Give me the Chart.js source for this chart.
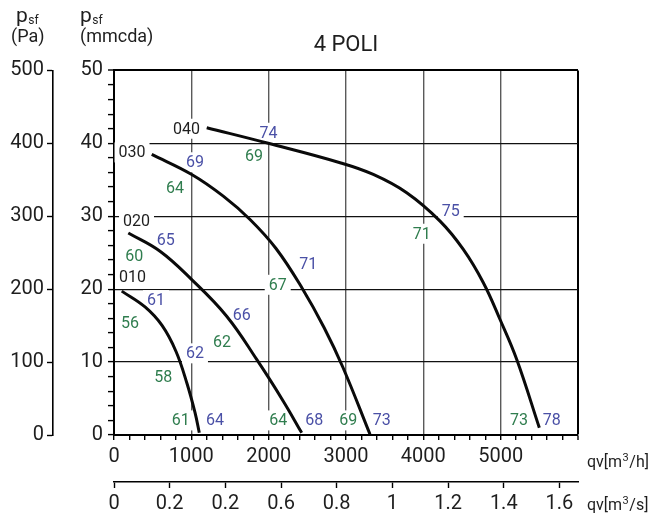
<!DOCTYPE html>
<html>
<head>
<meta charset="utf-8">
<script src="https://cdn.jsdelivr.net/npm/chart.js@4.4.1/dist/chart.umd.min.js"></script>
<style>
  html, body { margin: 0; padding: 0; background: #fff; }
  #wrap { width: 662px; height: 515px; }
</style>
</head>
<body>
<div id="wrap"><canvas id="fanChart"></canvas></div>
<script>
// Fan curves, flow in m3/h, pressure in mmcda
const flow010 = [100, 401, 621, 802, 944, 1047, 1103];
const press010 = [19.73, 17.56, 15.02, 11.45, 7.06, 3.09, 0.3];
const flow020 = [185, 595, 1005, 1457, 1845, 2189, 2427];
const press020 = [27.7, 25.2, 21.31, 16.29, 10.36, 4.64, 0.3];
const flow030 = [488, 1005, 1413, 1759, 2095, 2435, 2716, 2961, 3310];
const press030 = [38.48, 35.73, 32.76, 29.56, 25.58, 20.1, 14.75, 9.26, 0.1];
const flow040 = [1199, 1995, 2923, 3353, 3785, 4216, 4517, 4776, 4992, 5208, 5500];
const press040 = [42.14, 40, 37.34, 35.73, 33.22, 29.33, 25.45, 20.88, 15.84, 10.36, 0.99];

// labels written on the curves (noise levels and model numbers)
const noteText  = ['040', '030', '020', '010',
  '74', '69', '75', '71', '65', '61', '66', '62', '64', '68', '73', '78',
  '69', '64', '71', '67', '60', '56', '62', '58', '61', '64', '69', '73'];
const noteFlow  = [937, 233, 291, 239,
  1998, 1047, 4354, 2513, 668, 543, 1651, 1047, 1306, 2590, 3461, 5660,
  1810, 789, 3979, 2117, 263, 207, 1397, 638, 862, 2125, 3030, 5237];
const notePress = [42.0, 38.75, 29.3, 21.7,
  41.45, 37.4, 30.7, 23.5, 26.8, 18.5, 16.4, 11.2, 2.0, 2.0, 2.0, 2.0,
  38.25, 33.9, 27.6, 20.6, 24.5, 15.4, 12.8, 8.0, 2.0, 2.0, 2.0, 2.0];
const noteKind  = ['id', 'id', 'id', 'id',
  'lw', 'lw', 'lw', 'lw', 'lw', 'lw', 'lw', 'lw', 'lw', 'lw', 'lw', 'lw',
  'lp', 'lp', 'lp', 'lp', 'lp', 'lp', 'lp', 'lp', 'lp', 'lp', 'lp', 'lp'];

// second x axis (m3/s) tick labels, as printed
const m3sLabels = ['0', '0.2', '0.2', '0.6', '0.8', '1', '1.2', '1.4', '1.6'];

const noteColors = { id: '#1e1e1e', lw: '#4a50a6', lp: '#2f7d4e' };
const FONT = 'Roboto';

function pts(xs, ys) {
  return xs.map((x, i) => ({ x: x, y: ys[i] }));
}

function curve(xs, ys) {
  return {
    data: pts(xs, ys),
    showLine: true,
    borderColor: '#0a0a0a',
    borderWidth: 3,
    pointRadius: 0,
    tension: 0.4,
    fill: false
  };
}

// draw the white-boxed labels behind the curves, and the axis titles
const textPlugin = {
  id: 'texts',
  beforeDatasetsDraw(chart) {
    const ctx = chart.ctx;
    const xs = chart.scales.x, ys = chart.scales.y;
    ctx.save();
    ctx.font = '16px ' + FONT;
    ctx.textAlign = 'center';
    ctx.textBaseline = 'middle';
    noteText.forEach((t, i) => {
      const px = xs.getPixelForValue(noteFlow[i]);
      const py = ys.getPixelForValue(notePress[i]);
      const w = ctx.measureText(t).width;
      ctx.fillStyle = '#fff';
      ctx.fillRect(px - w / 2 - 4, py - 10, w + 8, 20);
      ctx.fillStyle = noteColors[noteKind[i]];
      ctx.fillText(t, px, py + 1);
    });
    ctx.restore();
  },
  afterDraw(chart) {
    const ctx = chart.ctx;
    const area = chart.chartArea;
    ctx.save();
    ctx.fillStyle = '#1e1e1e';
    ctx.textBaseline = 'alphabetic';
    ctx.textAlign = 'left';

    function psf(x) {
      ctx.font = '21px ' + FONT;
      ctx.fillText('p', x, 22);
      const w = ctx.measureText('p').width;
      ctx.font = '12px ' + FONT;
      ctx.fillText('sf', x + w + 0.5, 24);
    }
    psf(16);
    ctx.font = '18px ' + FONT;
    ctx.fillText('(Pa)', 11, 42);
    psf(80);
    ctx.font = '18px ' + FONT;
    ctx.fillText('(mmcda)', 80, 42);

    function unit(x, y, unitEnd) {
      ctx.font = '16px ' + FONT;
      ctx.fillText('qv[m', x, y);
      let w = ctx.measureText('qv[m').width;
      ctx.font = '11px ' + FONT;
      ctx.fillText('3', x + w + 0.5, y - 6);
      w += ctx.measureText('3').width + 1;
      ctx.font = '16px ' + FONT;
      ctx.fillText(unitEnd, x + w, y);
    }
    unit(area.right + 9, 467, '/h]');
    unit(area.right + 9, 510, '/s]');
    ctx.restore();
  }
};

function fixWidth(w) {
  return function (scale) {
    scale.width = w;
    scale.paddingTop = 0; scale.paddingBottom = 0;
    scale.paddingLeft = 0; scale.paddingRight = 0;
  };
}
function fixHeight(h) {
  return function (scale) {
    scale.height = h;
    scale.paddingTop = 0; scale.paddingBottom = 0;
    scale.paddingLeft = 0; scale.paddingRight = 0;
  };
}

const tickFont = { family: FONT, size: 20 };

const config = {
  type: 'scatter',
  data: {
    datasets: [
      curve(flow010, press010),
      curve(flow020, press020),
      curve(flow030, press030),
      curve(flow040, press040)
    ]
  },
  options: {
    responsive: true,
    maintainAspectRatio: false,
    animation: false,
    layout: { padding: { top: 0, left: 0, right: 84, bottom: 0 } },
    plugins: {
      legend: { display: false },
      tooltip: { enabled: false },
      title: {
        display: true,
        text: '4 POLI',
        fullSize: false,
        color: '#1e1e1e',
        font: { family: FONT, size: 22, weight: 'normal' },
        padding: { top: 32, bottom: 12 }
      }
    },
    scales: {
      x: {
        type: 'linear',
        position: 'bottom',
        weight: 0,
        min: 0,
        max: 6000,
        afterFit: fixHeight(47),
        ticks: {
          stepSize: 200,
          autoSkip: false,
          maxRotation: 0,
          padding: 5,
          color: '#1e1e1e',
          font: tickFont,
          callback: (v) => (v % 1000 === 0 && v < 6000) ? String(v) : ''
        },
        grid: {
          color: (c) => {
            const v = c.tick ? c.tick.value : 0;
            if (v === 6000) return '#000';
            return (v % 1000 === 0 && v > 0) ? '#5a5a5a' : 'rgba(0,0,0,0)';
          },
          lineWidth: (c) => (c.tick && c.tick.value === 6000) ? 2 : 1.4,
          tickColor: '#000',
          tickLength: 5,
          tickWidth: 1.4
        },
        border: { display: true, color: '#000', width: 2 }
      },
      x2: {
        type: 'linear',
        position: 'bottom',
        weight: 1,
        min: 0,
        max: 6000 / 3600,
        afterFit: fixHeight(33),
        ticks: {
          stepSize: 0.2,
          includeBounds: false,
          autoSkip: false,
          maxRotation: 0,
          padding: 4,
          color: '#1e1e1e',
          font: tickFont,
          callback: (v, i) => m3sLabels[i] !== undefined ? m3sLabels[i] : ''
        },
        grid: {
          drawOnChartArea: false,
          tickColor: '#000',
          tickLength: 6,
          tickWidth: 1.4
        },
        border: { display: true, color: '#000', width: 1.6 }
      },
      y: {
        type: 'linear',
        position: 'left',
        weight: 0,
        min: 0,
        max: 50,
        afterFit: fixWidth(61),
        ticks: {
          stepSize: 2,
          autoSkip: false,
          padding: 5,
          color: '#1e1e1e',
          font: tickFont,
          callback: (v) => v % 10 === 0 ? String(v) : ''
        },
        grid: {
          color: (c) => {
            const v = c.tick ? c.tick.value : 0;
            if (v === 50) return '#000';
            return (v % 10 === 0 && v > 0) ? '#111' : 'rgba(0,0,0,0)';
          },
          lineWidth: (c) => (c.tick && c.tick.value === 50) ? 2 : 1.2,
          tickColor: '#000',
          tickLength: 6,
          tickWidth: 1.4
        },
        border: { display: true, color: '#000', width: 2 }
      },
      yPa: {
        type: 'linear',
        position: 'left',
        weight: 1,
        min: 0,
        max: 500,
        afterFit: fixWidth(53),
        ticks: {
          stepSize: 100,
          padding: 3,
          color: '#1e1e1e',
          font: tickFont
        },
        grid: {
          drawOnChartArea: false,
          tickColor: '#000',
          tickLength: 6,
          tickWidth: 1.4
        },
        border: { display: true, color: '#000', width: 1.6 }
      }
    }
  },
  plugins: [textPlugin]
};

const fanChart = new Chart(document.getElementById('fanChart').getContext('2d'), config);
</script>
</body>
</html>
